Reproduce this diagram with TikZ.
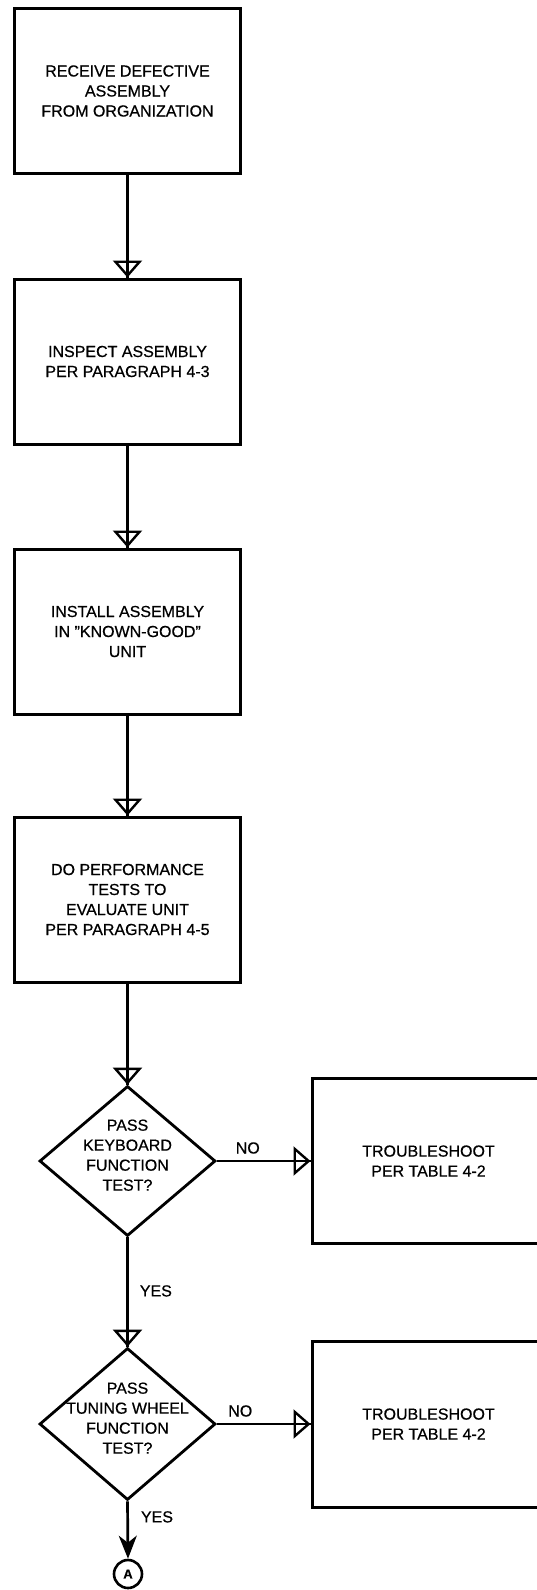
\documentclass[tikz,border=0pt]{standalone}
\usepackage{fontspec}
\setmainfont{Liberation Sans}[FakeBold=0.6]
\usetikzlibrary{arrows.meta,shapes.geometric}
\begin{document}
\begin{tikzpicture}[x=1pt,y=-1pt,
  txt/.style={font=\fontsize{16}{20}\selectfont},
  box/.style={draw, line width=3pt, minimum width=226pt, minimum height=165pt,
    align=center, inner sep=0pt, txt},
  trbox/.style={draw, line width=3pt, minimum width=233pt, minimum height=165pt,
    align=center, inner sep=0pt, txt},
  dec/.style={draw, diamond, line width=2.8pt, minimum width=176pt, minimum height=150pt,
    inner sep=0pt, txt},
  flow/.style={line width=2.7pt, -{Triangle[open, length=17pt, width=29pt, line width=2.4pt]},
    postaction={draw, line width=2.7pt, arrows=-}},
  endflow/.style={line width=2.7pt, -{Stealth[length=23pt, width=18pt, inset=7pt]}},
  lbl/.style={txt, inner sep=0pt}
]
\useasboundingbox (0,0) rectangle (537,1590);
\clip (0,0) rectangle (537,1590);

\node[box] (b1) at (127.5,91) {RECEIVE DEFECTIVE\\ASSEMBLY\\FROM ORGANIZATION};
\node[box] (b2) at (127.5,361.5) {INSPECT ASSEMBLY\\PER PARAGRAPH 4-3};
\node[box] (b3) at (127.5,631.5) {INSTALL ASSEMBLY\\IN "KNOWN-GOOD"\\UNIT};
\node[box] (b4) at (127.5,899.5) {DO PERFORMANCE\\TESTS TO\\EVALUATE UNIT\\PER PARAGRAPH 4-5};

\node[dec] (d1) at (127.5,1161) {\smash{\makebox[0pt]{\begin{tabular}{@{}c@{}}PASS\\KEYBOARD\\FUNCTION\\TEST?\end{tabular}}}};
\node[dec, minimum height=152pt] (d2) at (127.5,1424) {\smash{\makebox[0pt]{\begin{tabular}{@{}c@{}}PASS\\TUNING WHEEL\\FUNCTION\\TEST?\end{tabular}}}};

\node[trbox] (t1) at (428.5,1161) {TROUBLESHOOT\\PER TABLE 4-2};
\node[trbox, minimum height=166pt] (t2) at (428.5,1424) {TROUBLESHOOT\\PER TABLE 4-2};

\node[circle, draw, line width=2.6pt, minimum size=28pt, inner sep=0pt,
  font=\fontsize{13}{13}\selectfont\bfseries] (A) at (128,1574) {A};

\draw[flow] (b1.south) -- (b2.north);
\draw[flow] (b2.south) -- (b3.north);
\draw[flow] (b3.south) -- (b4.north);
\draw[flow] (b4.south) -- (d1.north);
\draw[flow] (d1.east) -- node[lbl, pos=0.33, anchor=south, yshift=6pt] (no1) {NO} (t1.west);
\draw[flow] (d1.south) -- node[lbl, pos=0.49, anchor=west, xshift=11pt] (yes1) {YES} (d2.north);
\draw[flow] (d2.east) -- node[lbl, pos=0.25, anchor=south, yshift=6pt] (no2) {NO} (t2.west);
\draw[endflow] (d2.south) -- node[lbl, pos=0.27, anchor=west, xshift=12pt] (yes2) {YES} (A.north);
\end{tikzpicture}
\end{document}
